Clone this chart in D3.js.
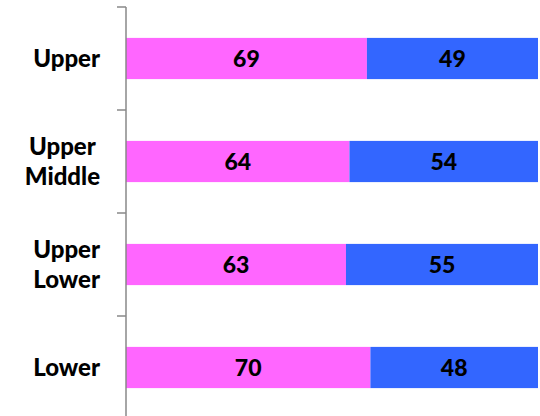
<!DOCTYPE html>
<html>
<head>
<meta charset="utf-8">
<script src="https://cdn.jsdelivr.net/npm/d3@7"></script>
<style>
  body { margin: 0; background: #fff; }
  svg { font-family: Lato, "Open Sans", sans-serif; font-weight: bold; }
</style>
</head>
<body>
<div id="chart"></div>
<script>
// data
const categories = ['Upper', 'Upper Middle', 'Upper Lower', 'Lower']
const labelLines = [['Upper'], ['Upper', 'Middle'], ['Upper', 'Lower'], ['Lower']]
const pinkValues = [69, 64, 63, 70]
const blueValues = [49, 54, 55, 48]
const seriesColors = ['#ff66ff', '#3366ff']

const width = 540, height = 416
const axisX = 126

const svg = d3.select('#chart').append('svg')
  .attr('width', width)
  .attr('height', height)

const x = d3.scaleLinear()
  .domain([0, 118])
  .range([axisX, 538])

const y = d3.scaleBand()
  .domain(categories)
  .range([7, 419])
  .paddingInner(0.6)
  .paddingOuter(0.3)

const rows = categories.map((c, i) => ({
  cat: c,
  lines: labelLines[i],
  segs: [
    { x0: 0, x1: pinkValues[i], v: pinkValues[i], color: seriesColors[0] },
    { x0: pinkValues[i], x1: pinkValues[i] + blueValues[i], v: blueValues[i], color: seriesColors[1] }
  ]
}))

// bars
const row = svg.selectAll('g.row')
  .data(rows)
  .join('g')
    .attr('class', 'row')

row.selectAll('rect')
  .data(d => d.segs.map(s => ({ ...s, cat: d.cat })))
  .join('rect')
    .attr('x', d => x(d.x0))
    .attr('y', d => y(d.cat))
    .attr('width', d => x(d.x1) - x(d.x0))
    .attr('height', y.bandwidth())
    .attr('fill', d => d.color)

row.selectAll('text.val')
  .data(d => d.segs.map(s => ({ ...s, cat: d.cat })))
  .join('text')
    .attr('class', 'val')
    .attr('x', d => (x(d.x0) + x(d.x1)) / 2)
    .attr('y', d => y(d.cat) + y.bandwidth() / 2 + 8)
    .attr('text-anchor', 'middle')
    .attr('font-size', 23)
    .attr('font-weight', 900)
    .attr('fill', '#000')
    .text(d => d.v)

// axis line + ticks between categories
const step = y.step()
const tickYs = d3.range(categories.length + 1).map(i => y(categories[0]) - y.paddingInner() * step / 2 + i * step)

svg.append('line')
  .attr('x1', axisX).attr('x2', axisX)
  .attr('y1', tickYs[0]).attr('y2', height)
  .attr('stroke', '#888')
  .attr('stroke-width', 1.5)

svg.selectAll('line.tick')
  .data(tickYs)
  .join('line')
    .attr('class', 'tick')
    .attr('x1', axisX - 9).attr('x2', axisX)
    .attr('y1', d => d).attr('y2', d => d)
    .attr('stroke', '#888')
    .attr('stroke-width', 1.5)

// category labels: block right-aligned, lines centred within block
const lineH = 30
rows.forEach(r => {
  const g = svg.append('g')
  const cy = y(r.cat) + y.bandwidth() / 2
  const texts = r.lines.map((t, j) => g.append('text')
    .attr('font-size', 24)
    .attr('font-weight', 900)
    .attr('fill', '#000')
    .attr('text-anchor', 'middle')
    .attr('y', cy + 8 + (j - (r.lines.length - 1) / 2) * lineH)
    .text(t))
  const maxW = d3.max(texts, t => t.node().getComputedTextLength())
  texts.forEach(t => t.attr('x', 100 - maxW / 2))
})
</script>
</body>
</html>
